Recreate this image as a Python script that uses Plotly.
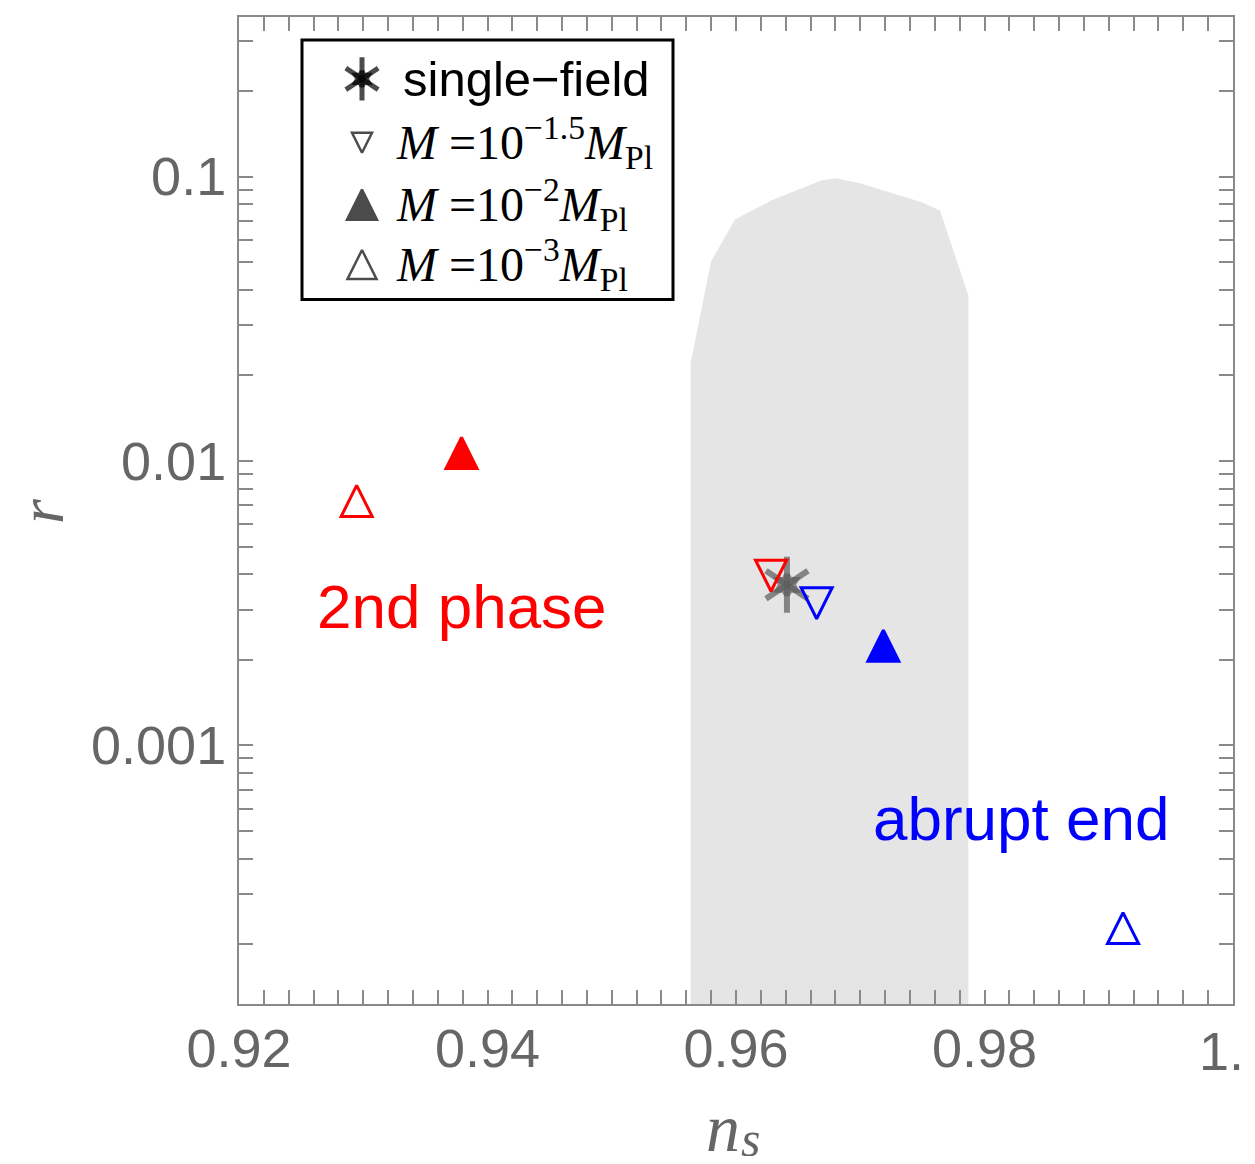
import math
import plotly.graph_objects as go

# ---------------- data ----------------
single_ns = [0.9641]
single_r = [0.00367]

# order: M = 10^-1.5, 10^-2, 10^-3 (in units of M_Pl)
ns_second = [0.96282, 0.93791, 0.92947]
r_second = [0.00395, 0.01067, 0.00724]
ns_abrupt = [0.96649, 0.97186, 0.99115]
r_abrupt = [0.00316, 0.002244, 0.000228]

# observational (shaded) region outline
planck_ns = [0.95635, 0.95635, 0.95799, 0.95992, 0.96287, 0.96686, 0.96805,
             0.96998, 0.97495, 0.97642, 0.97870, 0.97870]
planck_r = [1e-4, 0.02213, 0.0503, 0.0707, 0.0825, 0.0968, 0.0986,
            0.0947, 0.0812, 0.0760, 0.0382, 1e-4]

x_ticks = [0.92, 0.94, 0.96, 0.98, 1.0]
x_ticktext = ["0.92", "0.94", "0.96", "0.98", "1."]
y_ticks = [0.001, 0.01, 0.1]
y_ticktext = ["0.001", "0.01", "0.1"]

legend_labels = [
    "single\u2212field",
    "<i>M</i> =10<sup>\u22121.5</sup><i>M</i><sub>Pl</sub>",
    "<i>M</i> =10<sup>\u22122</sup><i>M</i><sub>Pl</sub>",
    "<i>M</i> =10<sup>\u22123</sup><i>M</i><sub>Pl</sub>",
]

# ---------------- styles / geometry ----------------
RED = "#ff0000"
BLUE = "#0000ff"
GRAY = "#666666"
STAR = "#5c5c5c"
FRAME = "#8a8a8a"
TRI_SIZE = 31

OFF = 8  # page body margin
W, H = 1239, 1148
L, R, T, B = 231, 14, 7, 152
pw, ph = W - L - R, H - T - B
X_RANGE = [0.92, 1.0]
Y_RANGE = [math.log10(1.233e-4), math.log10(0.364)]
px_per_dec = ph / (Y_RANGE[1] - Y_RANGE[0])
dshift = (TRI_SIZE / 2) / px_per_dec  # centre the apex-anchored triangles


def fx(px):  # reference-image pixel -> paper fraction
    return (px - OFF - L) / pw


def fy(py):
    return (H - B + OFF - py) / ph


fig = go.Figure()

fig.add_trace(go.Scatter(
    x=planck_ns, y=planck_r, mode="lines", fill="toself",
    fillcolor="#e5e5e5", line=dict(width=0, color="#e5e5e5"),
    hoverinfo="skip", showlegend=False))


def add_series(ns, r, color):
    # M = 10^-1.5 : open down-triangle
    fig.add_trace(go.Scatter(
        x=ns[:1], y=r[:1], yaxis="y4", mode="markers", showlegend=False,
        marker=dict(symbol="arrow-down-open", size=TRI_SIZE, color=color,
                    line=dict(width=3, color=color))))
    # M = 10^-2 (filled) and 10^-3 (open) : up-triangles
    fig.add_trace(go.Scatter(
        x=ns[1:], y=r[1:], yaxis="y3", mode="markers", showlegend=False,
        marker=dict(symbol=["arrow-up", "arrow-up-open"], size=TRI_SIZE,
                    color=color, line=dict(width=3, color=color))))


add_series(ns_second, r_second, RED)

fig.add_trace(go.Scatter(
    x=single_ns * 3, y=single_r * 3, mode="markers", showlegend=False,
    marker=dict(symbol=["y-up", "y-down", "hexagram"], size=[35, 35, 15],
                color=STAR, line=dict(width=6, color=STAR))))

add_series(ns_abrupt, r_abrupt, BLUE)

# ---------------- legend (manual) ----------------
row_py = [77, 141, 203, 263]
sym_px = 362
fig.add_shape(type="rect", xref="paper", yref="paper",
              x0=fx(302), x1=fx(673), y0=fy(298), y1=fy(38),
              line=dict(color="black", width=3), fillcolor="white", layer="below")

fig.add_trace(go.Scatter(
    x=[fx(sym_px)] * 3, y=[fy(row_py[0])] * 3, xaxis="x2", yaxis="y2",
    mode="markers", showlegend=False, hoverinfo="skip",
    marker=dict(symbol=["y-up", "y-down", "hexagram"], size=[27, 27, 11],
                color="black", line=dict(width=5, color="black"))))
leg_sym = ["arrow-down-open", "arrow-up", "arrow-up-open"]
leg_sizes = [20, 30, 29]
leg_y = [fy(row_py[1] + leg_sizes[0] / 2), fy(row_py[2] - leg_sizes[1] / 2),
         fy(row_py[3] - leg_sizes[2] / 2)]
fig.add_trace(go.Scatter(
    x=[fx(sym_px)] * 3, y=leg_y, xaxis="x2", yaxis="y2",
    mode="markers", showlegend=False, hoverinfo="skip",
    marker=dict(symbol=leg_sym, size=leg_sizes, color="black",
                line=dict(width=2.5, color="black"))))

for i, lab in enumerate(legend_labels):
    if i == 0:
        font = dict(family="Liberation Sans, Arial", size=49, color="black")
        xs = 401
    else:
        font = dict(family="Liberation Serif, Times New Roman", size=48, color="black")
        xs = 394
    fig.add_annotation(xref="paper", yref="paper", x=fx(xs), y=fy(row_py[i]),
                       xanchor="left", yanchor="middle", text=lab,
                       showarrow=False, font=font)

# ---------------- region labels ----------------
fig.add_annotation(x=0.93795, y=math.log10(0.00308), text="2nd phase",
                   xanchor="center", yanchor="middle", showarrow=False,
                   font=dict(family="Liberation Sans, Arial", size=62, color=RED))
fig.add_annotation(x=0.98294, y=math.log10(0.000555), text="abrupt end",
                   xanchor="center", yanchor="middle", showarrow=False,
                   font=dict(family="Liberation Sans, Arial", size=62, color=BLUE))

# axis titles (n and subscript s as separate pieces so the subscript stays on the page)
title_font = dict(family="Liberation Serif, Times New Roman", size=64, color=GRAY)
fig.add_annotation(xref="paper", yref="paper", x=fx(42), y=fy(510),
                   xanchor="center", yanchor="middle",
                   text="<i>r</i>", textangle=-90, showarrow=False, font=title_font)
fig.add_annotation(xref="paper", yref="paper", x=fx(723), y=fy(1128),
                   xanchor="center", yanchor="middle",
                   text="<i>n</i>", showarrow=False,
                   font=dict(family="Liberation Serif, Times New Roman", size=68, color=GRAY))
fig.add_annotation(xref="paper", yref="paper", x=fx(750), y=fy(1139),
                   xanchor="center", yanchor="middle",
                   text="<i>s</i>", showarrow=False,
                   font=dict(family="Liberation Serif, Times New Roman", size=50, color=GRAY))

minor_y = [m * 10 ** e for e in range(-4, 0) for m in range(2, 10)]
tickfont = dict(family="Liberation Sans, Arial", size=54, color=GRAY)

# last x tick label sits on the page edge: right-aligned text so it stays visible
fig.add_annotation(xref="paper", yref="paper", x=fx(1246), y=fy(1051),
                   xanchor="right", yanchor="middle", text=x_ticktext[-1],
                   showarrow=False, font=tickfont)

fig.update_layout(
    width=W, height=H, autosize=False,
    margin=dict(l=L, r=R, t=T, b=B, pad=0),
    paper_bgcolor="white", plot_bgcolor="white",
    showlegend=False,
    xaxis=dict(range=X_RANGE, tickvals=x_ticks[:-1], ticktext=x_ticktext[:-1],
               ticks="inside", ticklen=14, tickwidth=2, tickcolor=FRAME,
               showline=True, linecolor=FRAME, linewidth=2, mirror="allticks",
               showgrid=False, zeroline=False, tickfont=tickfont,
               ticklabelstandoff=-4,
               minor=dict(tick0=0.92, dtick=0.002, ticks="inside", ticklen=14,
                          tickwidth=2, tickcolor=FRAME, showgrid=False)),
    yaxis=dict(type="log", range=Y_RANGE,
               tickvals=y_ticks, ticktext=y_ticktext,
               ticks="inside", ticklen=14, tickwidth=2, tickcolor=FRAME,
               showline=True, linecolor=FRAME, linewidth=2, mirror="allticks",
               showgrid=False, zeroline=False, tickfont=tickfont,
               ticklabelstandoff=0,
               minor=dict(tickvals=minor_y, ticks="inside", ticklen=14,
                          tickwidth=2, tickcolor=FRAME, showgrid=False)),
    yaxis3=dict(type="log", overlaying="y", anchor="x", visible=False,
                range=[Y_RANGE[0] - dshift, Y_RANGE[1] - dshift]),
    yaxis4=dict(type="log", overlaying="y", anchor="x", visible=False,
                range=[Y_RANGE[0] + dshift, Y_RANGE[1] + dshift]),
    xaxis2=dict(overlaying="x", range=[0, 1], visible=False, anchor="y2"),
    yaxis2=dict(overlaying="y", range=[0, 1], visible=False, anchor="x2"),
)

fig.write_html("out.html")
